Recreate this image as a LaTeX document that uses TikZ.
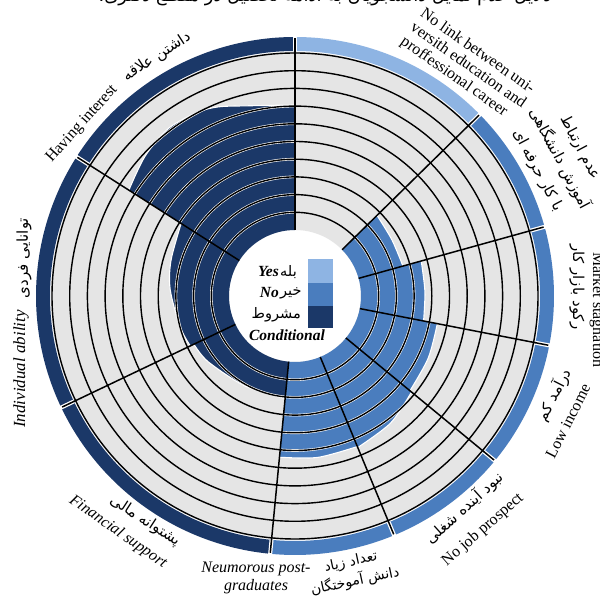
\documentclass[tikz,border=0pt]{standalone}
\usepackage{fontspec}
\setmainfont{Liberation Serif}
\newfontfamily\fa[Script=Arabic]{DejaVu Sans}
\TeXXeTstate=1
\definecolor{lb}{RGB}{142,180,227}
\definecolor{mb}{RGB}{74,125,190}
\definecolor{nv}{RGB}{27,56,104}
\definecolor{gr}{RGB}{229,229,229}
\newcommand\myblob[4]{%
  \fill[#1] (#2:66) -- plot[smooth] coordinates {#4} -- (#3:66) arc[start angle=#3, end angle=#2, radius=66] -- cycle;
  \begin{scope}
    \clip (#2:66) -- plot[smooth] coordinates {#4} -- (#3:66) arc[start angle=#3, end angle=#2, radius=66] -- cycle;
    \foreach \k in {1,...,10} \draw[white, line width=2.6] (0,0) circle[radius={66+17.7*\k}];
  \end{scope}
  \draw[white, line width=1.1] plot[smooth] coordinates {#4};
}
\tikzset{
  lab/.style={font=\fontsize{16}{17}\selectfont, inner sep=0pt},
  fal/.style={font=\fa\fontsize{15}{24}\selectfont, inner sep=0pt},
  lgd/.style={font=\bfseries\itshape\fontsize{15.5}{16}\selectfont, inner sep=0pt},
  lgf/.style={font=\fa\fontsize{14.5}{16}\selectfont, inner sep=0pt}
}
\begin{document}
\begin{tikzpicture}[x=1pt,y=1pt]
\useasboundingbox (0,0) rectangle (600,599);
\fill[white] (0,0) rectangle (600,599);
\begin{scope}[shift={(295,303)}]
  % grey rings
  \fill[gr, even odd rule] (0,0) circle[radius=244] (0,0) circle[radius=66];
  % coloured regions
  \myblob{nv}{90}{147.5}{(90:191) (104:196) (112:204) (118:208) (127:210) (137:205) (147.5:197)}
  \myblob{nv}{147.5}{205.5}{(147.5:135) (164:129) (177:125) (195:119) (205.5:116)}
  \myblob{nv}{205.5}{264.5}{(205.5:112) (217:109) (241:103) (264.5:103)}
  \myblob{mb}{264.5}{292.5}{(264.5:162) (278:163) (292.5:163)}
  \myblob{mb}{292.5}{320.5}{(292.5:164) (307:159) (320.5:151)}
  \myblob{mb}{320.5}{349}{(320.5:149) (335:147) (349:145)}
  \myblob{mb}{349}{375.5}{(349:131) (362:130) (375.5:131)}
  \myblob{mb}{15.5}{44.5}{(15.5:112) (30:112) (44.5:115)}
  % outer band
  \foreach \a/\b/\c in {90/147.5/nv, 147.5/205.5/nv, 205.5/264.5/nv, 264.5/292.5/mb,
                        292.5/320.5/mb, 320.5/349/mb, 349/375.5/mb, 15.5/44.5/mb, 44.5/90/lb}
    \fill[\c] (\a:245) arc[start angle=\a, end angle=\b, radius=245] -- (\b:259)
              arc[start angle=\b, end angle=\a, radius=259] -- cycle;
  % ring lines
  \foreach \k in {1,...,10} \draw[line width=1.4] (0,0) circle[radius={66+17.7*\k}];
  % radial lines
  \foreach \a in {90,147.5,205.5,264.5,292.5,320.5,349,15.5,44.5} {
    \draw[white, line width=4] (\a:245) -- (\a:260);
    \draw[line width=1.5] (\a:66) -- (\a:258);
  }
\end{scope}
% legend
\fill[lb] (308,316) rectangle (333,340);
\fill[mb] (308,293) rectangle (333,316);
\fill[nv] (308,271) rectangle (333,293);
\node[lgd, anchor=east] (yes) at (279,327) {Yes};
\node[lgf, anchor=west] (yesf) at (280,327) {\beginR بله\endR};
\node[lgd, anchor=east] (no) at (279,306) {No};
\node[lgf, anchor=west] (nof) at (280,306) {\beginR خیر\endR};
\node[lgf, anchor=east] (cndf) at (301,284) {\beginR مشروط\endR};
\node[lgd] (cnd) at (287,264) {Conditional};
% labels
\node[lab, rotate=48] (l1) at (82,475) {Having interest};
\node[fal, rotate=33] (l1f) at (157,542) {\beginR داشتن علاقه\endR};
\node[lab, align=left, rotate=-35, font=\fontsize{16}{17}\selectfont] (l9) at (468,533)
  {No link between uni-\\versith education and\\proffessional career};
\node[fal, align=center, rotate=-62] (l8f) at (559,440)
  {\beginR عدم ارتباط\endR\\\beginR آموزش دانشگاهی\endR\\\beginR با کار حرفه ای\endR};
\node[lab, rotate=-90] (l7) at (597,289) {Market stagnation};
\node[fal, rotate=-90] (l7f) at (577,312) {\beginR رکود بازار کار\endR};
\node[lab, rotate=63] (l6) at (568,178) {Low income};
\node[fal, rotate=63] (l6f) at (554,204) {\beginR درآمد کم\endR};
\node[lab, rotate=41] (l5) at (483,69) {No job prospect};
\node[fal, rotate=42] (l5f) at (464,91) {\beginR نبود آینده شغلی\endR};
\node[lab, align=center, font=\itshape\fontsize{16}{18}\selectfont] (l4) at (256,21) {Neumorous post-\\graduates};
\node[fal, align=center, rotate=12, font=\fa\fontsize{14}{20}\selectfont] (l4f) at (353,27)
  {\beginR تعداد زیاد\endR\\\beginR دانش آموختگان\endR};
\node[lab, rotate=-35, font=\itshape\fontsize{16}{17}\selectfont] (l3) at (118,67) {Financial support};
\node[fal, rotate=-33] (l3f) at (145,78) {\beginR پشتوانه مالی\endR};
\node[lab, rotate=90, font=\itshape\fontsize{17}{18}\selectfont] (l2) at (21,230) {Individual ability};
\node[fal, rotate=90] (l2f) at (24,341) {\beginR توانایی فردی\endR};
% cut caption at the top
\node[fal, anchor=base, font=\fa\fontsize{18}{20}\selectfont] (cap) at (325,597)
  {\beginR دلایل عدم تمایل دانشجویان به ادامه تحصیل در مقطع دکتری.\endR};
\end{tikzpicture}
\end{document}
